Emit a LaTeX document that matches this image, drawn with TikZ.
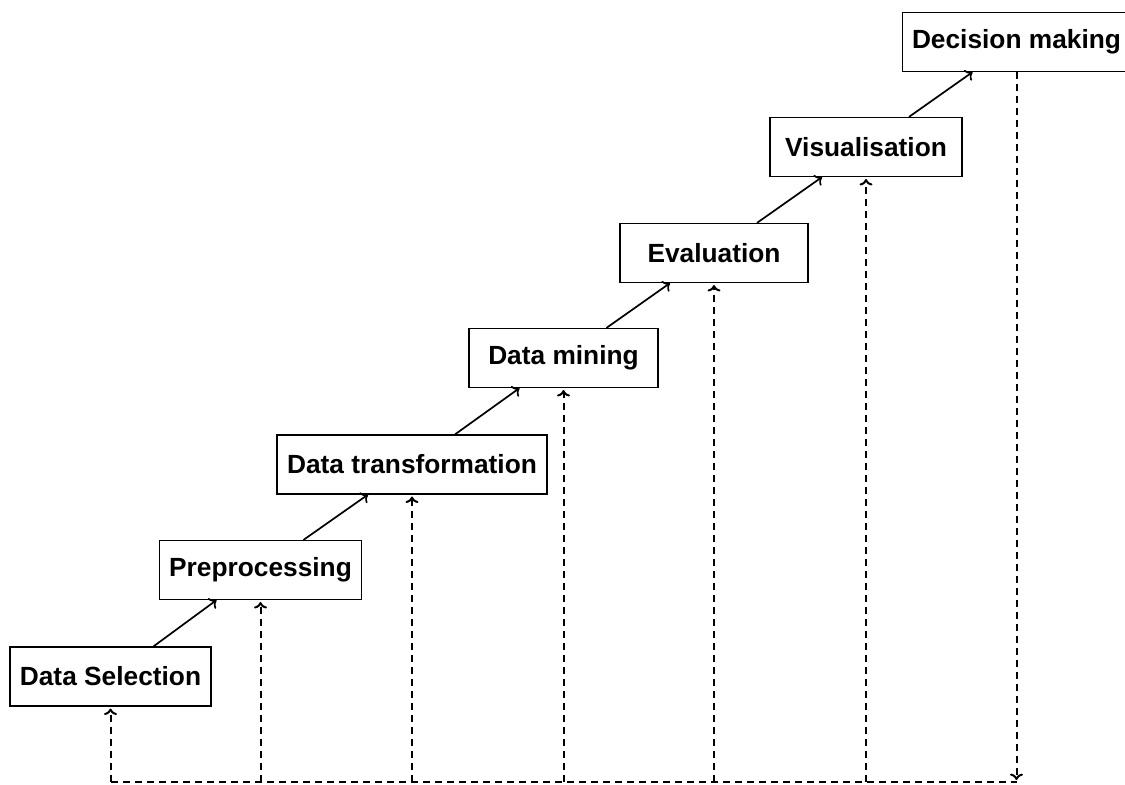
\documentclass[tikz,border=0pt]{standalone}
\usepackage{fontspec}
\setmainfont{Liberation Sans}
\usetikzlibrary{arrows.meta}
\begin{document}
\begin{tikzpicture}[x=0.5pt,y=-0.5pt,
  stage/.style={draw,line width=0.6pt,minimum height=29.5pt,inner xsep=4.75pt,
    font=\fontsize{13.15}{16}\selectfont\bfseries},
  flow/.style={line width=0.85pt,-{To[length=3.2pt,width=6.5pt]}},
  feedback/.style={line width=1pt,dash pattern=on 3.5pt off 2.5pt},
  feedarrow/.style={feedback,-{To[length=3.2pt,width=6.5pt]},shorten >=1pt}]
\useasboundingbox (0,0) rectangle (1125,785);

% process stages
\node[stage,minimum width=100.5pt] (ds)  at (110.5,676.5) {Data Selection};
\node[stage,minimum width=100.5pt] (pp)  at (260.5,570)   {Preprocessing};
\node[stage,minimum width=135pt]   (dt)  at (412,464.5)   {Data transformation};
\node[stage,minimum width=94.5pt]  (dmi) at (563.5,358)   {Data mining};
\node[stage,minimum width=94pt]    (ev)  at (714,253)     {Evaluation};
\node[stage,minimum width=96pt]    (vi)  at (866,147)     {Visualisation};
\node[stage,minimum width=113.5pt] (dec) at (1016.5,42)   {Decision making};

% forward flow between consecutive stages
\foreach \a/\b in {ds/pp,pp/dt,dt/dmi,dmi/ev,ev/vi,vi/dec}
  \draw[flow] ([xshift=21.5pt]\a.north) -- ([xshift=-22pt]\b.south);

% feedback loop along the bottom
\coordinate (base) at (0,782);
\draw[feedarrow] (dec.south) -- (dec.south |- base);
\draw[feedback] (ds.south |- base) -- (dec.south |- base);
\foreach \n in {ds,pp,dt,dmi,ev,vi}
  \draw[feedarrow] (\n.south |- base) -- (\n.south);
\end{tikzpicture}
\end{document}
